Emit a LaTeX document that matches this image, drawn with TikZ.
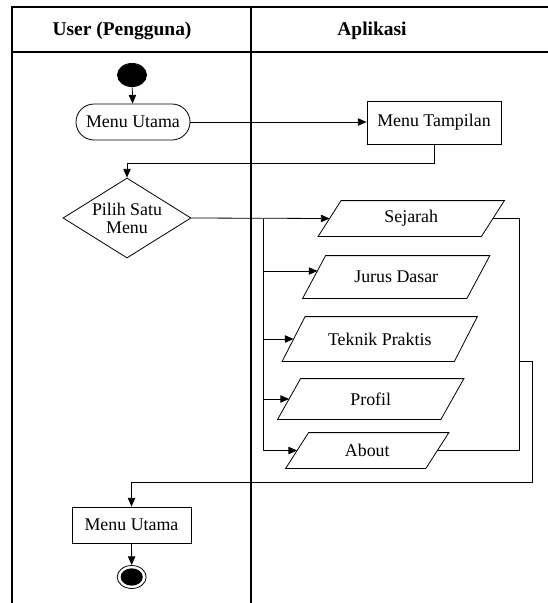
\documentclass[tikz,border=0pt]{standalone}
\usepackage{fontspec}
\setmainfont{Liberation Serif}
\usetikzlibrary{arrows.meta,shapes.geometric}

\newcommand\dgbody{\fontsize{13.4}{13.4}\selectfont}
\newcommand\dghead{\fontsize{14.6}{16}\selectfont\bfseries}
% half of the horizontal slant of the input/output boxes
\newcommand\dgslant{8.6pt}

\tikzset{
  lane/.style={line width=1.3pt},
  link/.style={line width=0.6pt},
  flow/.style={line width=0.6pt, -{Triangle[length=6.5pt,width=5.5pt]}},
  head/.style={font=\dghead, anchor=base, inner sep=0pt},
  act/.style={draw, line width=0.6pt, rectangle, inner sep=0pt, font=\dgbody, align=center},
  roundact/.style={act, rounded corners=13.5pt},
  choicebox/.style={draw, line width=0.6pt, diamond, aspect=1.6, inner sep=0pt,
    font=\dgbody, align=center, minimum width=96pt, minimum height=60pt},
  startdot/.style={ellipse, fill=black, minimum width=22.5pt, minimum height=18pt, inner sep=0pt},
  endring/.style={ellipse, draw, line width=0.6pt, minimum width=21.75pt, minimum height=17.25pt,
    inner sep=0pt,
    path picture={\fill (path picture bounding box.center) ellipse (8.3pt and 6.5pt);}},
}

% input/output box: name, x, y, width, height, text
\newcommand\ioact[6]{%
  \node[act, draw=none, minimum width=#4, minimum height=#5] (#1) at (#2,#3) {#6};
  \draw[link] ([xshift=\dgslant]#1.north west) -- ([xshift=\dgslant]#1.north east)
    -- ([xshift=-\dgslant]#1.south east) -- ([xshift=-\dgslant]#1.south west) -- cycle;}

\begin{document}
\begin{tikzpicture}[x=0.75pt, y=-0.75pt]
\useasboundingbox (0,0) rectangle (548,603);

% swimlane frame
\draw[lane] (11.7,603) -- (11.7,7.3) -- (548,7.3);
\draw[lane] (11.7,52) -- (548,52);
\draw[lane] (251,7.3) -- (251,603);
\node[head] (userlane) at (122,35) {User (Pengguna)};
\node[head] (applane) at (372,35) {Aplikasi};

% user lane
\node[startdot] (start) at (132,75) {};
\node[roundact, minimum width=85.5pt, minimum height=27pt] (mainmenu) at (133,122) {Menu Utama};
\node[choicebox] (choice) at (127,218) {Pilih Satu\\Menu};
\node[act, minimum width=89.25pt, minimum height=27pt] (mainmenu2) at (131.5,525) {Menu Utama};
\node[endring] (finish) at (131.7,577) {};

% application lane
\node[act, minimum width=100.5pt, minimum height=32.25pt] (display) at (434,122.5) {Menu Tampilan};
\ioact{sejarah}{411.25}{218.5}{121.9pt}{26.25pt}{Sejarah}
\ioact{jurus}{396.25}{277}{122.6pt}{31.5pt}{Jurus Dasar}
\ioact{teknik}{379.75}{339}{128.6pt}{33pt}{Teknik Praktis}
\ioact{profil}{370.75}{399}{121.9pt}{30pt}{Profil}
\ioact{about}{367.25}{450.5}{104.6pt}{26.25pt}{About}

\coordinate (split) at (263,218.5);
\coordinate (join) at (519,361);
\coordinate (jurusin) at ([xshift=2.5pt,yshift=4.5pt]jurus.west);

% flow
\draw[flow] (start) -- (mainmenu);
\draw[flow] (mainmenu.east) -- (mainmenu.east -| display.west);
\draw[flow] (display.south) -- ++(0,18.7) -| (choice.north);
\draw[flow] (choice.east) -- (sejarah.west);
\draw[link] (split) -- (split |- about.west);
\draw[flow] (split |- jurusin) -- (jurusin);
\draw[flow] (split |- teknik.west) -- (teknik.west);
\draw[flow] (split |- profil.west) -- (profil.west);
\draw[flow] (split |- about.west) -- (about.west);
\draw[link] (sejarah.east) -- (sejarah.east -| join) -- (join |- about.east) -- (about.east);
\draw[flow] (join) -- ++(13,0) -- ++(0,121) -| (mainmenu2.north);
\draw[flow] (mainmenu2) -- (finish);
\end{tikzpicture}
\end{document}
